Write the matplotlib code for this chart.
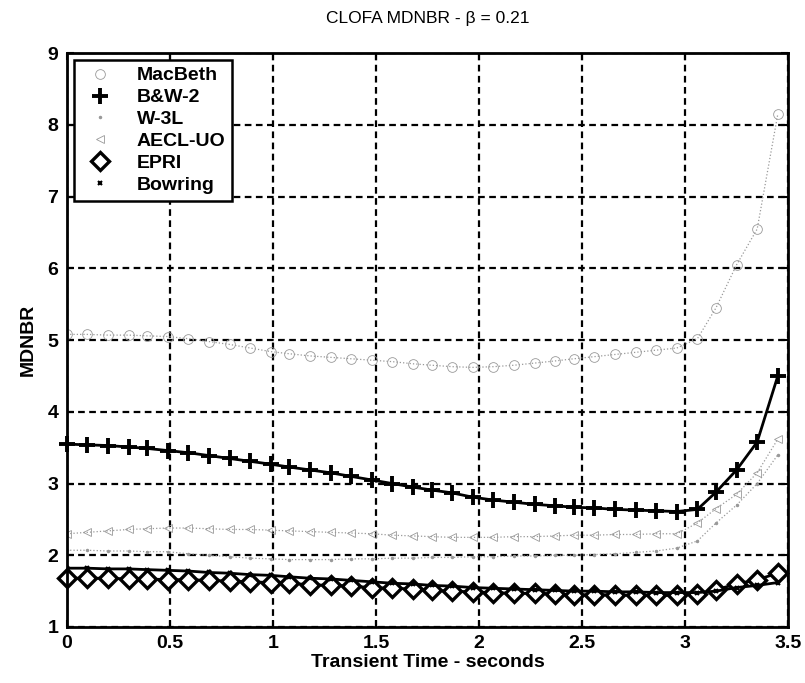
import matplotlib
matplotlib.use("Agg")
import matplotlib.pyplot as plt

plt.rcParams["font.family"] = ["Liberation Sans", "DejaVu Sans"]

# transient time, seconds
time = [0.00, 0.10, 0.20, 0.30, 0.39, 0.49, 0.59, 0.69, 0.79, 0.89,
        0.99, 1.08, 1.18, 1.28, 1.38, 1.48, 1.58, 1.68, 1.77, 1.87,
        1.97, 2.07, 2.17, 2.27, 2.37, 2.46, 2.56, 2.66, 2.76, 2.86,
        2.96, 3.06, 3.15, 3.25, 3.35, 3.45]

macbeth = [5.08, 5.08, 5.07, 5.07, 5.06, 5.05, 5.02, 4.98, 4.94, 4.89,
           4.84, 4.81, 4.78, 4.76, 4.74, 4.72, 4.70, 4.67, 4.65, 4.63,
           4.62, 4.63, 4.65, 4.68, 4.71, 4.74, 4.77, 4.80, 4.83, 4.86,
           4.89, 5.02, 5.45, 6.05, 6.55, 8.15]

bw2 = [3.55, 3.54, 3.53, 3.51, 3.49, 3.46, 3.43, 3.39, 3.35, 3.31,
       3.27, 3.23, 3.19, 3.15, 3.10, 3.05, 3.00, 2.95, 2.91, 2.87,
       2.81, 2.77, 2.74, 2.71, 2.69, 2.67, 2.66, 2.64, 2.63, 2.62,
       2.61, 2.64, 2.88, 3.19, 3.58, 4.50]

w3l = [2.07, 2.07, 2.06, 2.06, 2.05, 2.05, 2.02, 2.00, 1.98, 1.96,
       1.95, 1.94, 1.94, 1.94, 1.95, 1.95, 1.96, 1.96, 1.97, 1.97,
       1.98, 1.98, 1.99, 1.99, 2.00, 2.00, 2.01, 2.02, 2.04, 2.06,
       2.10, 2.20, 2.45, 2.70, 3.00, 3.40]

aecl = [2.30, 2.32, 2.34, 2.36, 2.37, 2.38, 2.38, 2.37, 2.36, 2.36,
        2.35, 2.34, 2.33, 2.32, 2.31, 2.30, 2.28, 2.27, 2.26, 2.25,
        2.25, 2.25, 2.26, 2.26, 2.27, 2.28, 2.28, 2.29, 2.29, 2.30,
        2.30, 2.45, 2.65, 2.85, 3.15, 3.62]

epri = [1.68, 1.68, 1.68, 1.67, 1.67, 1.66, 1.66, 1.65, 1.64, 1.63,
        1.62, 1.61, 1.59, 1.58, 1.57, 1.55, 1.54, 1.53, 1.51, 1.50,
        1.49, 1.48, 1.47, 1.47, 1.46, 1.45, 1.45, 1.45, 1.44, 1.44,
        1.44, 1.46, 1.52, 1.60, 1.66, 1.75]

bowring = [1.82, 1.82, 1.81, 1.81, 1.80, 1.79, 1.78, 1.76, 1.75, 1.73,
           1.72, 1.70, 1.68, 1.67, 1.65, 1.63, 1.61, 1.60, 1.58, 1.57,
           1.55, 1.54, 1.53, 1.52, 1.51, 1.50, 1.50, 1.49, 1.49, 1.48,
           1.48, 1.48, 1.50, 1.55, 1.58, 1.62]

x_ticks = [0, 0.5, 1, 1.5, 2, 2.5, 3, 3.5]
x_tick_labels = ["0", "0.5", "1", "1.5", "2", "2.5", "3", "3.5"]
y_ticks = [1, 2, 3, 4, 5, 6, 7, 8, 9]

GRAY = "0.6"

fig = plt.figure(figsize=(8.05, 6.83), dpi=100)
ax = fig.add_axes([0.083, 0.082, 0.896, 0.840])

ax.plot(time, macbeth, linestyle=":", color=GRAY, linewidth=0.9,
        marker="o", markersize=7, markerfacecolor="none",
        markeredgecolor=GRAY, markeredgewidth=0.6, label="MacBeth")
ax.plot(time, bw2, linestyle="-", color="black", linewidth=2.0,
        marker="+", markersize=12, markeredgewidth=2.8, label="B&W-2",
        clip_on=False)
ax.plot(time, w3l, linestyle=":", color=GRAY, linewidth=0.9,
        marker=".", markersize=3, label="W-3L")
ax.plot(time, aecl, linestyle=":", color=GRAY, linewidth=0.9,
        marker="<", markersize=6, markerfacecolor="none",
        markeredgecolor=GRAY, markeredgewidth=0.6, label="AECL-UO")
ax.plot(time, epri, linestyle="-", color="black", linewidth=2.0,
        marker="D", markersize=9, markerfacecolor="white",
        markeredgecolor="black", markeredgewidth=2.4, label="EPRI",
        clip_on=False)
ax.plot(time, bowring, linestyle="-", color="black", linewidth=2.0,
        marker="x", markersize=3, markeredgewidth=1.5, label="Bowring")

ax.set_xlim(0, 3.5)
ax.set_ylim(1, 9)
ax.set_xticks(x_ticks)
ax.set_xticklabels(x_tick_labels)
ax.set_yticks(y_ticks)
ax.tick_params(direction="in", length=5, width=1.5, labelsize=14,
               top=True, right=True, pad=6)
for lbl in ax.get_xticklabels() + ax.get_yticklabels():
    lbl.set_fontweight("bold")
for s in ax.spines.values():
    s.set_linewidth(2.0)

ax.grid(True, color="black", linestyle=(0, (3, 2)), linewidth=1.6)
ax.set_axisbelow(True)

ax.set_title("CLOFA MDNBR - \u03b2 = 0.21", fontsize=12.5, pad=22)
ax.set_xlabel("Transient Time - seconds", fontsize=14, fontweight="bold",
              labelpad=1)
ax.set_ylabel("MDNBR", fontsize=14, fontweight="bold", labelpad=8)

leg = ax.legend(loc="upper left", prop={"size": 14, "weight": "bold"},
                frameon=True, fancybox=False, edgecolor="black",
                framealpha=1, borderaxespad=0.35, handlelength=2.0,
                handletextpad=0.9, labelspacing=0.22, borderpad=0.35)
leg.get_frame().set_linewidth(1.8)
for h in leg.get_lines():
    h.set_linestyle("none")

fig.savefig("out.png", dpi=100)
